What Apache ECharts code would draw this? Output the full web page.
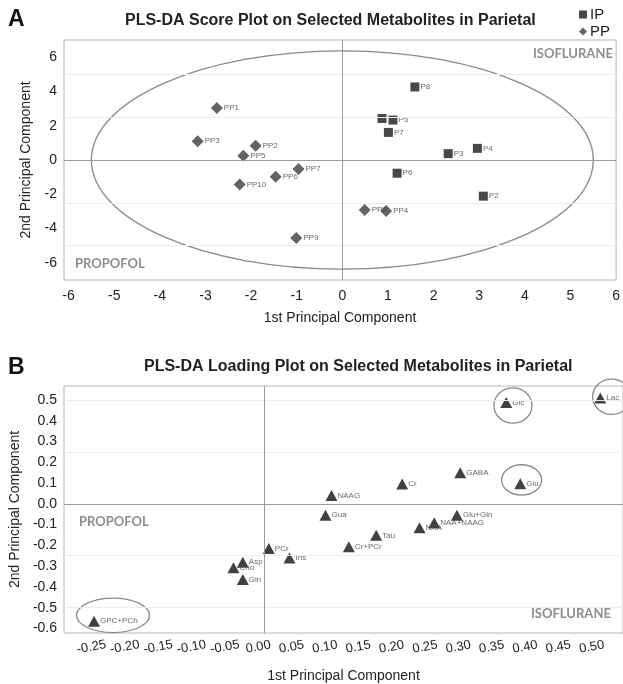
<!DOCTYPE html>
<html><head><meta charset="utf-8">
<script src="https://cdn.jsdelivr.net/npm/echarts@6/dist/echarts.min.js"></script>
<style>html,body{margin:0;padding:0;background:#fff}#chart{width:623px;height:684px}</style>
</head><body><div id="chart"></div>
<script>
// ---- Panel A: PLS-DA scores ----
const ipNames = ['P1', 'P2', 'P3', 'P4', 'P5', 'P6', 'P7', 'P8'];
const ipX = [0.87, 3.09, 2.32, 2.96, 1.11, 1.20, 1.01, 1.59];
const ipY = [2.42, -2.11, 0.37, 0.68, 2.33, -0.77, 1.61, 4.26];
const ppNames = ['PP1', 'PP2', 'PP3', 'PP4', 'PP5', 'PP6', 'PP7', 'PP8', 'PP9', 'PP10'];
const ppX = [-2.75, -1.90, -3.17, 0.96, -2.17, -1.46, -0.96, 0.49, -1.01, -2.25];
const ppY = [3.04, 0.83, 1.10, -2.98, 0.25, -0.97, -0.52, -2.91, -4.55, -1.43];
const scoreEllipse = [0, 0, 5.5, 6.37];          // centre x, centre y, radius x, radius y
const scoreXTicks = [-6, -5, -4, -3, -2, -1, 0, 1, 2, 3, 4, 5, 6];
const scoreYTicks = [-6, -4, -2, 0, 2, 4, 6];
const scoreGrid = [-5, -2.5, 2.5, 5];

// ---- Panel B: PLS-DA loadings ----
const metabolites = ['Lac', 'Glc', 'GABA', 'Glu', 'Cr', 'Glu+Gln', 'NAA+NAAG', 'NAA', 'Tau', 'Cr+PCr',
  'NAAG', 'Gua', 'PCr', 'Ins', 'Asp', 'Cho', 'Gln', 'GPC+PCh'];
const loadX = [0.504, 0.363, 0.294, 0.384, 0.207, 0.289, 0.255, 0.233, 0.168, 0.127,
  0.101, 0.092, 0.007, 0.038, -0.032, -0.046, -0.032, -0.255];
const loadY = [0.509, 0.488, 0.150, 0.097, 0.095, -0.055, -0.091, -0.115, -0.152, -0.207,
  0.040, -0.055, -0.215, -0.261, -0.281, -0.308, -0.365, -0.565];
// highlighted metabolites: centre x, centre y, radius x, radius y
const loadRings = [
  [0.373, 0.473, 0.0285, 0.085],
  [0.521, 0.515, 0.0285, 0.085],
  [0.386, 0.115, 0.030, 0.073],
  [-0.2265, -0.537, 0.0547, 0.083]
];
const loadXTicks = [-0.25, -0.20, -0.15, -0.10, -0.05, 0.00, 0.05, 0.10, 0.15, 0.20, 0.25, 0.30, 0.35, 0.40, 0.45, 0.50];
const loadYTicks = [-0.6, -0.5, -0.4, -0.3, -0.2, -0.1, 0.0, 0.1, 0.2, 0.3, 0.4, 0.5];
const loadGrid = [-0.5, -0.25, 0.25, 0.5];

const FONT = '"Liberation Sans", Arial, sans-serif';
const QUAD = { fontFamily: 'Lato, "Open Sans", sans-serif', fontWeight: 'bold', fontSize: 13, fill: '#8e8e8e' };

function ringRender(params, api) {
  const c = api.coord([api.value(0), api.value(1)]);
  const s = api.size([api.value(2), api.value(3)]);
  return {
    type: 'ellipse',
    shape: { cx: c[0], cy: c[1], rx: Math.abs(s[0]), ry: Math.abs(s[1]) },
    style: { fill: 'none', stroke: '#8a8a8a', lineWidth: 1.3 }
  };
}

function guideLines(levels) {
  const d = levels.map(v => ({ yAxis: v, lineStyle: { color: '#ececec', width: 1, type: 'solid' } }));
  d.push({ yAxis: 0, lineStyle: { color: '#9a9a9a', width: 1, type: 'solid' } });
  d.push({ xAxis: 0, lineStyle: { color: '#9a9a9a', width: 1, type: 'solid' } });
  return { silent: true, symbol: 'none', label: { show: false }, animation: false, data: d };
}

const ptLabel = { show: true, position: 'right', distance: 1, fontSize: 8, color: '#444', fontFamily: FONT };
const TITLE = { fontFamily: FONT, fontWeight: 'bold', fontSize: 16, color: '#222' };

const option = {
  animation: false,
  backgroundColor: '#fff',
  title: [
    { text: 'PLS-DA Score Plot on Selected Metabolites in Parietal', left: 120, top: 8, textStyle: TITLE },
    { text: 'PLS-DA Loading Plot on Selected Metabolites in Parietal', left: 139, top: 354, textStyle: TITLE }
  ],
  legend: {
    orient: 'vertical', right: 8, top: 2, itemWidth: 8, itemHeight: 8, itemGap: 2,
    textStyle: { fontFamily: FONT, fontSize: 15, color: '#222', padding: [0, 0, 0, -2], lineHeight: 13 },
    data: [{ name: 'IP', icon: 'rect', itemStyle: { color: '#1a1a1a' } }, { name: 'PP', icon: 'diamond' }]
  },
  graphic: [
    { type: 'text', left: 8, top: 8, style: { text: 'A', fontFamily: FONT, fontWeight: 'bold', fontSize: 23, fill: '#111' } },
    { type: 'text', left: 8, top: 356, style: { text: 'B', fontFamily: FONT, fontWeight: 'bold', fontSize: 23, fill: '#111' } },
    { type: 'text', left: 75, top: 257, style: Object.assign({ text: 'PROPOFOL' }, QUAD) },
    { type: 'text', left: 533, top: 47, style: Object.assign({ text: 'ISOFLURANE' }, QUAD) },
    { type: 'text', left: 79, top: 515, style: Object.assign({ text: 'PROPOFOL' }, QUAD) },
    { type: 'text', left: 531, top: 607, style: Object.assign({ text: 'ISOFLURANE' }, QUAD) }
  ],
  grid: [
    { left: 64, top: 40, right: 3, height: 240, show: true, borderColor: '#b4b4b4', borderWidth: 1 },
    { left: 64, top: 386, right: 0, height: 251, show: true, borderColor: '#b4b4b4', borderWidth: 1 }
  ],
  xAxis: [
    { gridIndex: 0, type: 'value', min: -6.1, max: 6,
      name: '1st Principal Component', nameLocation: 'middle', nameGap: 31,
      nameTextStyle: { fontFamily: FONT, fontSize: 14, color: '#222' },
      axisLine: { show: false }, splitLine: { show: false },
      axisTick: { show: false },
      axisLabel: { customValues: scoreXTicks, fontFamily: FONT, fontSize: 14, color: '#222', margin: 9 } },
    { gridIndex: 1, type: 'value', min: -0.3, max: 0.538,
      name: '1st Principal Component', nameLocation: 'middle', nameGap: 36,
      nameTextStyle: { fontFamily: FONT, fontSize: 14, color: '#222' },
      axisLine: { show: false }, splitLine: { show: false },
      axisTick: { show: false },
      axisLabel: { customValues: loadXTicks, rotate: 10, align: 'center', padding: [0, 12, 0, 0],
        fontFamily: FONT, fontSize: 13, color: '#222', margin: 13,
        formatter: v => v.toFixed(2) } }
  ],
  yAxis: [
    { gridIndex: 0, type: 'value', min: -7, max: 7,
      name: '2nd Principal Component', nameLocation: 'middle', nameGap: 31,
      nameTextStyle: { fontFamily: FONT, fontSize: 14, color: '#222' },
      axisLine: { show: false }, splitLine: { show: false },
      axisTick: { show: false },
      axisLabel: { customValues: scoreYTicks, fontFamily: FONT, fontSize: 14, color: '#222', margin: 7 } },
    { gridIndex: 1, type: 'value', min: -0.622, max: 0.567,
      name: '2nd Principal Component', nameLocation: 'middle', nameGap: 41,
      nameTextStyle: { fontFamily: FONT, fontSize: 14, color: '#222' },
      axisLine: { show: false }, splitLine: { show: false },
      axisTick: { show: false },
      axisLabel: { customValues: loadYTicks, fontFamily: FONT, fontSize: 14, color: '#222', margin: 7,
        formatter: v => v.toFixed(1) } }
  ],
  series: [
    { type: 'custom', xAxisIndex: 0, yAxisIndex: 0, renderItem: ringRender, silent: true, z: 1,
      data: [scoreEllipse], markLine: guideLines(scoreGrid) },
    { name: 'IP', type: 'scatter', xAxisIndex: 0, yAxisIndex: 0, symbol: 'rect', symbolSize: 9,
      itemStyle: { color: '#1a1a1a' }, z: 3,
      label: Object.assign({ formatter: p => p.name }, ptLabel),
      data: ipNames.map((n, i) => ({ name: n, value: [ipX[i], ipY[i]], label: n === 'P1' ? { show: false } : undefined })) },
    { name: 'PP', type: 'scatter', xAxisIndex: 0, yAxisIndex: 0, symbol: 'diamond', symbolSize: 12,
      itemStyle: { color: '#3c3c3c' }, z: 3,
      label: Object.assign({ formatter: p => p.name }, ptLabel),
      data: ppNames.map((n, i) => ({ name: n, value: [ppX[i], ppY[i]] })) },
    { type: 'custom', xAxisIndex: 1, yAxisIndex: 1, renderItem: ringRender, silent: true, z: 1,
      data: loadRings, markLine: guideLines(loadGrid) },
    { name: 'Loadings', type: 'scatter', xAxisIndex: 1, yAxisIndex: 1, symbol: 'triangle', symbolSize: [12, 11],
      itemStyle: { color: '#111' }, z: 3,
      label: Object.assign({ formatter: p => p.name }, ptLabel, { distance: 0 }),
      data: metabolites.map((n, i) => ({ name: n, value: [loadX[i], loadY[i]] })) }
  ]
};

echarts.init(document.getElementById('chart'), null, { renderer: 'canvas' }).setOption(option);
</script>
</body></html>
